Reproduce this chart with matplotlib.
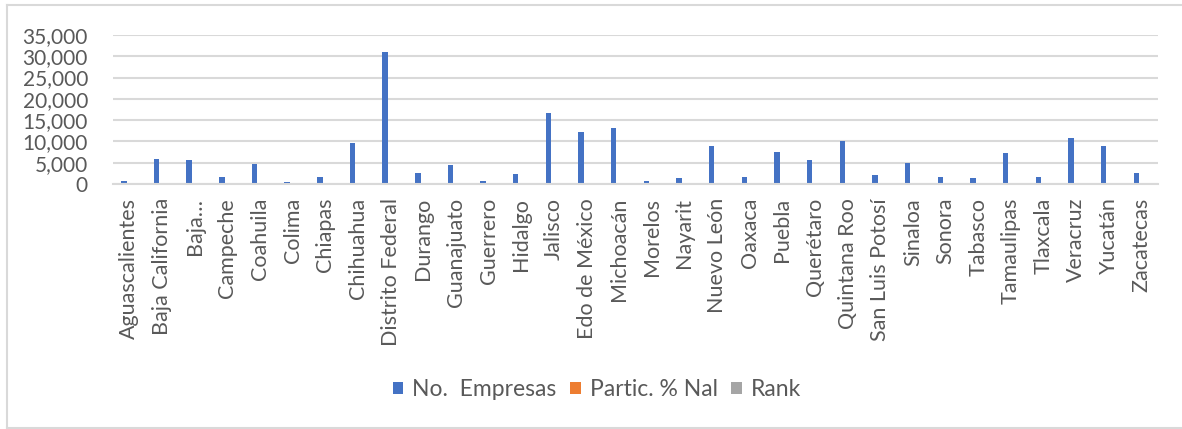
import matplotlib.pyplot as plt
import numpy as np
from matplotlib.lines import Line2D

# States and their values per series
estados = ["Aguascalientes", "Baja California", "Baja…", "Campeche", "Coahuila",
           "Colima", "Chiapas", "Chihuahua", "Distrito Federal", "Durango",
           "Guanajuato", "Guerrero", "Hidalgo", "Jalisco", "Edo de México",
           "Michoacán", "Morelos", "Nayarit", "Nuevo León", "Oaxaca", "Puebla",
           "Querétaro", "Quintana Roo", "San Luis Potosí", "Sinaloa", "Sonora",
           "Tabasco", "Tamaulipas", "Tlaxcala", "Veracruz", "Yucatán", "Zacatecas"]
empresas = [780, 5950, 5640, 1720, 4780, 470, 1720, 9550, 31000, 2600,
            4460, 780, 2350, 16760, 12220, 13160, 780, 1410, 8930, 1720, 7440,
            5640, 10180, 2040, 5010, 1720, 1410, 7200, 1720, 10810, 8930, 2580]
partic = [0.4, 3.1, 2.9, 0.9, 2.5, 0.2, 0.9, 5.0, 16.2, 1.4,
          2.3, 0.4, 1.2, 8.8, 6.4, 6.9, 0.4, 0.7, 4.7, 0.9, 3.9,
          2.9, 5.3, 1.1, 2.6, 0.9, 0.7, 3.8, 0.9, 5.6, 4.7, 1.3]
rank = [29, 12, 13, 22, 16, 32, 23, 7, 1, 18,
        17, 30, 20, 2, 4, 3, 31, 27, 8, 24, 10,
        14, 6, 21, 15, 25, 28, 11, 26, 5, 9, 19]

azul = "#4472C4"
naranja = "#ED7D31"
gris = "#A5A5A5"
texto = "#595959"
rejilla = "#D9D9D9"

plt.rcParams["font.family"] = ["Lato", "DejaVu Sans"]

W, H = 1182, 429
fig = plt.figure(figsize=(W / 100, H / 100), dpi=100)
ax = fig.add_axes([113 / W, 1 - 184 / H, (1158 - 113) / W, (184 - 35) / H])

x = np.arange(len(estados))
w = 1 / 6
ax.bar(x - w, empresas, w, color=azul, label="No.  Empresas")
ax.bar(x, partic, w, color=naranja, label="Partic. % Nal")
ax.bar(x + w, rank, w, color=gris, label="Rank")

ax.set_xlim(-0.5, len(estados) - 0.5)
ax.set_ylim(0, 35000)
ax.set_yticks(range(0, 35001, 5000))
ax.set_yticklabels([f"{v:,}" for v in range(0, 35001, 5000)])
ax.yaxis.grid(True, color=rejilla, linewidth=1.5)
ax.set_axisbelow(True)
for s in ["top", "right", "left"]:
    ax.spines[s].set_visible(False)
ax.spines["bottom"].set_color(rejilla)
ax.spines["bottom"].set_linewidth(1.5)

ax.set_xticks(x)
ax.set_xticklabels(estados, rotation=90, va="top", ha="center")
ax.tick_params(axis="x", length=0, pad=10, labelsize=15.5, labelcolor=texto)
ax.tick_params(axis="y", length=0, pad=18, labelsize=15, labelcolor=texto)

fig.legend(loc="center", bbox_to_anchor=(597 / W, 1 - 390 / H), ncol=3,
           frameon=False, fontsize=16.5, labelcolor=texto,
           handlelength=0.45, handleheight=0.45, handletextpad=0.4,
           columnspacing=0.6)

# Chart area border
for xs, ys in [([7, 7], [5, 428]), ([7, W], [5, 5]), ([7, W], [428, 428])]:
    fig.add_artist(Line2D([v / W for v in xs], [1 - v / H for v in ys],
                          color=rejilla, linewidth=1.5))

fig.savefig("out.png", dpi=100)
